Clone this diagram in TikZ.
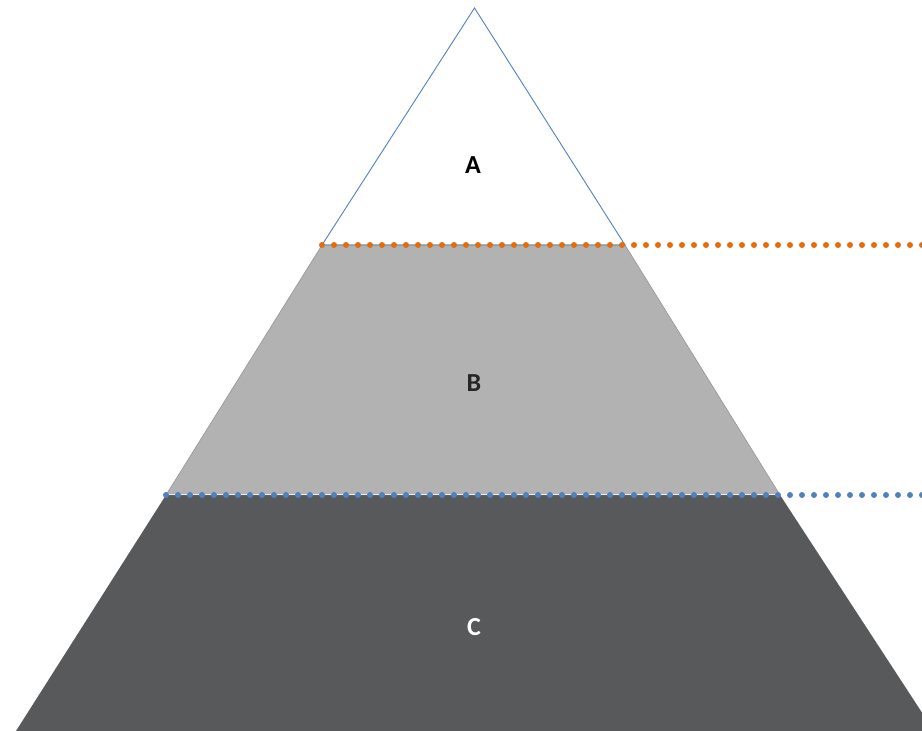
\documentclass[tikz,border=0pt]{standalone}
\usepackage{fontspec}
\setmainfont{Carlito}
\definecolor{orangedot}{HTML}{E46C0A}
\definecolor{bluedot}{HTML}{4F81BD}
\definecolor{layerB}{HTML}{B2B2B2}
\definecolor{layerC}{HTML}{58595B}
\definecolor{labelB}{HTML}{262626}
\begin{document}
\begin{tikzpicture}[x=1pt,y=1pt,
  lbl/.style={font=\fontsize{26}{30}\selectfont\bfseries},
  dotline/.style={line width=6pt, line cap=round, dash pattern=on 0pt off 12pt}]
\useasboundingbox (0,0) rectangle (922,731);
\clip (0,0) rectangle (922,731);
% layer C
\fill[layerC] (16,0) -- (166,236) -- (780,236) -- (934,0) -- cycle;
% layer B
\draw[layerB!80!black, line width=0.5pt, fill=layerB] (166,236) -- (322,486) -- (625,486) -- (780,236) -- cycle;
\draw[white!85!gray, line width=1pt] (166,236) -- (780,236);
% layer A outline
\draw[bluedot, line width=0.9pt, line join=miter] (322,486) -- (474.5,723) -- (625,486) -- cycle;
% dotted lines
\draw[orangedot, dotline] (322,486) -- (922,486);
\draw[bluedot, dotline] (166,236) -- (922,236);
% labels
\node[lbl, text=black] (A) at (473,566) {A};
\node[lbl, text=labelB] (B) at (474,348) {B};
\node[lbl, text=white] (C) at (474,104) {C};
\end{tikzpicture}
\end{document}
